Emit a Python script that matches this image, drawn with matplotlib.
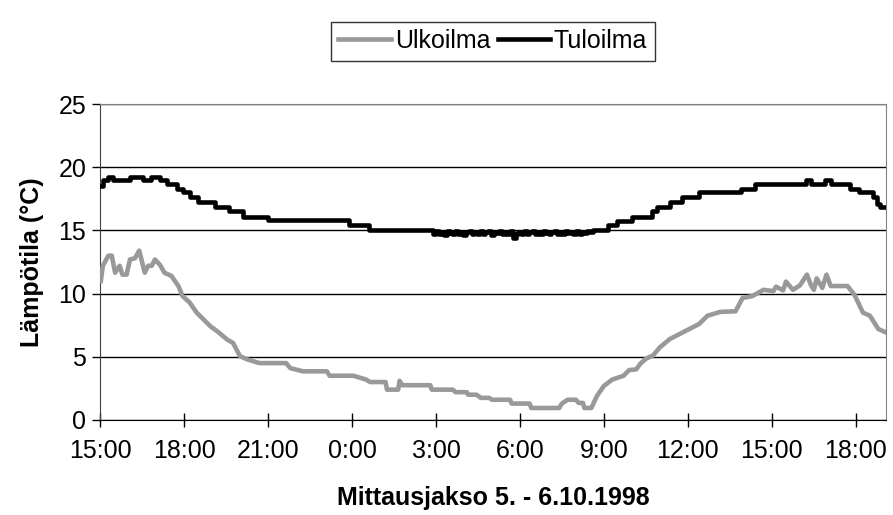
import numpy as np
import matplotlib
matplotlib.use("Agg")
import matplotlib.pyplot as plt

plt.rcParams['font.family'] = ['Liberation Sans', 'DejaVu Sans']

#%% data (hours from 5.10. 15:00)
ulko_h = [0.03, 0.1, 0.3, 0.42, 0.54, 0.7, 0.8, 0.95, 1.07, 1.25, 1.4, 1.48, 1.6, 1.72,
          1.85, 1.96, 2.15, 2.3, 2.55, 2.8, 2.95, 3.2, 3.45, 3.7, 3.95, 4.2, 4.55, 4.75,
          5.0, 5.25, 5.7, 6.65, 6.8, 7.25, 8.1, 8.2, 9.05, 9.5, 9.65, 10.2, 10.25, 10.65,
          10.7, 10.8, 11.8, 11.85, 12.6, 12.7, 13.1, 13.15, 13.45, 13.6, 13.9, 14.0, 14.65,
          14.7, 15.35, 15.4, 16.4, 16.5, 16.7, 17.0, 17.1, 17.25, 17.3, 17.55, 17.75, 18.0,
          18.3, 18.7, 18.9, 19.15, 19.3, 19.5, 19.75, 20.0, 20.35, 20.7, 21.05, 21.4, 21.7,
          22.15, 22.7, 22.95, 23.3, 23.7, 24.05, 24.15, 24.4, 24.5, 24.75, 25.0, 25.25,
          25.4, 25.5, 25.6, 25.8, 25.95, 26.1, 26.7, 26.95, 27.25, 27.5, 27.8, 28.05]
ulko_t = [11.0, 12.2, 13.0, 13.0, 11.65, 12.2, 11.5, 11.5, 12.7, 12.8, 13.4, 12.7, 11.65, 12.2,
          12.2, 12.7, 12.25, 11.65, 11.4, 10.6, 9.8, 9.3, 8.5, 7.95, 7.4, 7.0, 6.35, 6.1,
          5.05, 4.8, 4.5, 4.5, 4.1, 3.85, 3.85, 3.5, 3.5, 3.2, 3.0, 3.0, 2.4, 2.4,
          3.1, 2.75, 2.75, 2.4, 2.4, 2.2, 2.2, 2.0, 2.0, 1.75, 1.75, 1.6, 1.6,
          1.3, 1.3, 0.95, 0.95, 1.3, 1.6, 1.6, 1.35, 1.35, 0.95, 0.95, 1.9, 2.7,
          3.2, 3.5, 3.95, 4.0, 4.45, 4.85, 5.1, 5.75, 6.4, 6.8, 7.2, 7.6, 8.25,
          8.55, 8.6, 9.65, 9.8, 10.3, 10.2, 10.55, 10.25, 10.95, 10.3, 10.65, 11.5,
          10.65, 10.3, 11.2, 10.45, 11.5, 10.6, 10.6, 9.9, 8.5, 8.25, 7.2, 6.95]

tulo_h1 = [0.0, 0.1, 0.3, 0.48, 1.07, 1.55, 1.81, 2.14, 2.4, 2.74, 2.95, 3.2, 3.5, 4.1,
           4.6, 5.1, 6.0, 8.9, 9.6]
tulo_t1 = [18.55, 18.95, 19.2, 18.95, 19.2, 18.95, 19.2, 18.95, 18.7, 18.3, 18.0, 17.65,
           17.25, 16.85, 16.5, 16.1, 15.8, 15.4, 15.05]
# night: reading jumps around 14.7...14.95
tulo_yo = [14.75, 14.95, 14.7, 14.9, 14.65, 14.95, 14.8, 14.7, 14.95, 14.75, 14.9, 14.65,
           14.85, 14.95, 14.7, 14.9, 14.75, 14.95, 14.7, 14.85, 14.95, 14.65, 14.9, 14.8,
           14.95, 14.7, 14.9, 14.75, 14.95, 14.4, 14.7, 14.9, 14.75, 14.95, 14.7, 14.85,
           14.95, 14.7, 14.9, 14.75, 14.95, 14.8, 14.7, 14.9, 14.95, 14.75, 14.9, 14.7,
           14.95, 14.8, 14.9, 14.75, 14.95, 14.7, 14.9, 14.8, 14.95, 14.85]
tulo_h2 = [17.6, 18.15, 18.45, 19.0, 19.7, 19.9, 20.35, 20.8, 21.4, 22.9, 23.4, 25.2,
           25.4, 25.9, 26.1, 26.8, 27.1, 27.6, 27.75, 27.85, 28.05]
tulo_t2 = [15.05, 15.4, 15.75, 16.1, 16.5, 16.85, 17.25, 17.65, 18.05, 18.3, 18.7, 18.95,
           18.7, 18.95, 18.7, 18.3, 18.05, 17.65, 17.1, 16.85, 16.85]

tick_h = [0, 3, 6, 9, 12, 15, 18, 21, 24, 27]
tick_lbl = ["15:00", "18:00", "21:00", "0:00", "3:00", "6:00", "9:00", "12:00", "15:00", "18:00"]

tulo_h = tulo_h1 + list(np.linspace(11.9, 17.5, len(tulo_yo))) + tulo_h2
tulo_t = tulo_t1 + tulo_yo + tulo_t2

#%% plot
fig = plt.figure(figsize=(8.93, 5.15), dpi=100)
ax = fig.add_axes([0.112, 0.1845, 0.88, 0.6135])

ax.plot(ulko_h, ulko_t, color='#999999', linewidth=3.3, label='Ulkoilma', zorder=3)
ax.plot(tulo_h, tulo_t, color='black', linewidth=3.3, drawstyle='steps-post',
        label='Tuloilma', zorder=4)

ax.set_xlim(0, 28.07)
ax.set_ylim(0, 25)
ax.set_yticks([0, 5, 10, 15, 20, 25])
ax.set_xticks(tick_h)
ax.set_xticklabels(tick_lbl)
ax.grid(axis='y', color='black', linewidth=1)
ax.set_axisbelow(True)

ax.tick_params(axis='x', direction='inout', length=10, width=1, labelsize=18, pad=9)
ax.tick_params(axis='y', direction='out', length=6, width=1, labelsize=18, pad=4)
ax.spines['top'].set_color('#808080')
ax.spines['right'].set_color('#808080')
ax.spines['left'].set_color('#404040')
ax.spines['bottom'].set_color('black')

ax.set_ylabel("Lämpötila (°C)", fontsize=18, fontweight='bold', labelpad=10)
ax.set_xlabel("Mittausjakso 5. - 6.10.1998", fontsize=18, fontweight='bold', labelpad=16)

leg = fig.legend(loc='center', bbox_to_anchor=(0.552, 0.92), ncol=2, fontsize=18,
                 frameon=True, fancybox=False, edgecolor='black', handlelength=2.1,
                 handletextpad=0.15, columnspacing=0.3, borderpad=0.3, borderaxespad=0)
leg.get_frame().set_linewidth(1)

plt.savefig("out.png", dpi=100)
